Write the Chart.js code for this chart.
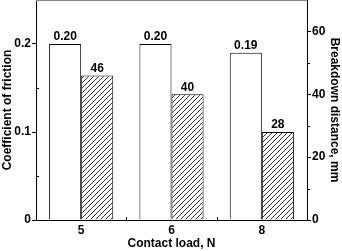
<!DOCTYPE html>
<html><head><meta charset="utf-8">
<script src="https://cdn.jsdelivr.net/npm/chart.js@4/dist/chart.umd.min.js"></script>
<style>html,body{margin:0;padding:0;background:#fff}#wrap{width:342px;height:251px}</style>
</head><body><div id="wrap"><canvas id="c" width="342" height="251"></canvas></div>
<script>
const categories = ['5', '6', '8'];
const frictionValues = [0.20, 0.20, 0.19];
const breakdownValues = [46, 40, 28];
const frictionLabels = ['0.20', '0.20', '0.19'];
const breakdownLabels = ['46', '40', '28'];
const leftTicks = [0, 0.1, 0.2];
const rightTicks = [0, 20, 40, 60];
const leftMinorTicks = [0.05, 0.15];
const rightMinorTicks = [10, 30, 50];

function hatch() {
  const s = 5;
  const p = document.createElement('canvas');
  p.width = s; p.height = s;
  const g = p.getContext('2d');
  g.fillStyle = '#fff'; g.fillRect(0, 0, s, s);
  g.strokeStyle = '#000'; g.lineWidth = 0.8;
  g.beginPath();
  g.moveTo(0, s); g.lineTo(s, 0);
  g.moveTo(-1, 1); g.lineTo(1, -1);
  g.moveTo(s - 1, s + 1); g.lineTo(s + 1, s - 1);
  g.stroke();
  return document.getElementById('c').getContext('2d').createPattern(p, 'repeat');
}

const FONT = 'Liberation Sans, Arial, sans-serif';

const extras = {
  id: 'extras',
  afterDatasetsDraw(chart) {
    const ctx = chart.ctx;
    const a = chart.chartArea;
    ctx.save();
    ctx.strokeStyle = '#888'; ctx.lineWidth = 1;
    ctx.beginPath(); ctx.moveTo(a.left, a.top + 0.5); ctx.lineTo(a.right, a.top + 0.5); ctx.stroke();
    ctx.strokeStyle = '#000';
    const y = chart.scales.y, y1 = chart.scales.y1, x = chart.scales.x;
    leftMinorTicks.forEach(v => {
      const py = Math.round(y.getPixelForValue(v)) + 0.5;
      ctx.beginPath(); ctx.moveTo(a.left, py); ctx.lineTo(a.left + 3, py); ctx.stroke();
    });
    rightMinorTicks.forEach(v => {
      const py = Math.round(y1.getPixelForValue(v)) + 0.5;
      ctx.beginPath(); ctx.moveTo(a.right, py); ctx.lineTo(a.right + 3, py); ctx.stroke();
    });
    for (let i = 0; i < categories.length - 1; i++) {
      const px = Math.round((x.getPixelForValue(i) + x.getPixelForValue(i + 1)) / 2) + 0.5;
      ctx.beginPath(); ctx.moveTo(px, a.bottom); ctx.lineTo(px, a.bottom - 3); ctx.stroke();
    }
    ctx.fillStyle = '#000';
    ctx.font = 'bold 12px ' + FONT;
    ctx.textAlign = 'center'; ctx.textBaseline = 'bottom';
    const lbls = [frictionLabels, breakdownLabels];
    chart.data.datasets.forEach((ds, di) => {
      chart.getDatasetMeta(di).data.forEach((bar, i) => {
        ctx.fillText(lbls[di][i], bar.x, bar.y - 1);
      });
    });
    ctx.restore();
  }
};

new Chart(document.getElementById('c'), {
  type: 'bar',
  data: {
    labels: categories,
    datasets: [
      { data: frictionValues, yAxisID: 'y', backgroundColor: '#fff', borderColor: '#000', borderWidth: 1,
        categoryPercentage: 0.71, barPercentage: 1 },
      { data: breakdownValues, yAxisID: 'y1', backgroundColor: hatch(), borderColor: '#000', borderWidth: 1,
        categoryPercentage: 0.71, barPercentage: 1 }
    ]
  },
  options: {
    responsive: false, animation: false,
    layout: { padding: 0 },
    plugins: { legend: { display: false }, tooltip: { enabled: false } },
    scales: {
      x: {
        grid: { display: false, drawTicks: false },
        border: { color: '#000', width: 1 },
        ticks: { color: '#000', font: { family: FONT, size: 12, weight: 'bold' }, padding: 3 },
        title: { display: true, text: 'Contact load, N', color: '#000', font: { family: FONT, size: 12, weight: 'bold' }, padding: { top: 0, bottom: 0 } },
        afterFit(s) { s.height = 31; s.paddingLeft = 0; s.paddingRight = 0; }
      },
      y: {
        position: 'left', min: 0, max: 0.25,
        grid: { drawOnChartArea: false, tickLength: 4, color: '#000' },
        border: { color: '#000', width: 1 },
        afterBuildTicks(s) { s.ticks = leftTicks.map(v => ({ value: v })); },
        ticks: { color: '#000', font: { family: FONT, size: 12, weight: 'bold' }, padding: 1,
          callback: v => (Math.abs(v) < 1e-9 ? '0' : (Math.round(v * 10) / 10).toString()) },
        title: { display: true, text: 'Coefficient of friction', color: '#000', font: { family: FONT, size: 12, weight: 'bold' }, padding: { top: 0, bottom: 0 } },
        afterFit(s) { s.width = 36; s.paddingTop = 0; s.paddingBottom = 0; }
      },
      y1: {
        position: 'right', min: 0, max: 70,
        grid: { drawOnChartArea: false, tickLength: 4, color: '#000' },
        border: { color: '#000', width: 1 },
        afterBuildTicks(s) { s.ticks = rightTicks.map(v => ({ value: v })); },
        ticks: { color: '#000', font: { family: FONT, size: 12, weight: 'bold' }, padding: 1 },
        title: { display: true, text: 'Breakdown distance, mm', color: '#000', font: { family: FONT, size: 12, weight: 'bold' }, padding: { top: 0, bottom: 0 } },
        afterFit(s) { s.width = 35; s.paddingTop = 0; s.paddingBottom = 0; }
      }
    }
  },
  plugins: [extras]
});
</script>
</body></html>
